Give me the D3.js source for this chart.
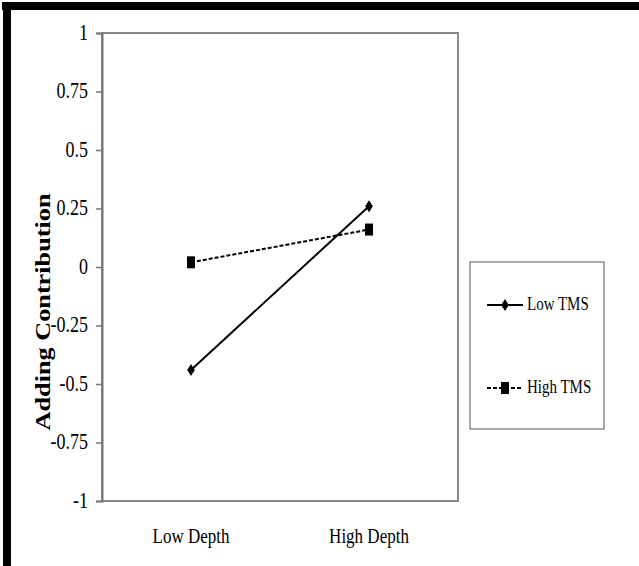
<!DOCTYPE html>
<html><head><meta charset="utf-8">
<script src="https://cdn.jsdelivr.net/npm/d3@7"></script>
<style>body{margin:0;background:#fff}svg{display:block}text{font-family:"Liberation Serif","Times New Roman",serif;fill:#000}</style>
</head><body>
<script>
const categories = ["Low Depth", "High Depth"];
const seriesNames = ["Low TMS", "High TMS"];
const lowTMS = [-0.44, 0.26];
const highTMS = [0.02, 0.16];
const yTicks = [-1, -0.75, -0.5, -0.25, 0, 0.25, 0.5, 0.75, 1];
const yTickLabels = ["-1", "-0.75", "-0.5", "-0.25", "0", "0.25", "0.5", "0.75", "1"];
const yTitle = "Adding Contribution";

const W = 639, H = 566;
const svg = d3.select("body").append("svg").attr("width", W).attr("height", H);

// frame bars (top and left)
svg.append("rect").attr("x", 2).attr("y", 2).attr("width", W - 2).attr("height", 8).attr("fill", "#000");
svg.append("rect").attr("x", 3).attr("y", 2).attr("width", 8).attr("height", H - 2).attr("fill", "#000");

const L = 102, R = 458, T = 33, B = 501;
const x = d3.scaleBand().domain(categories).range([L, R]).padding(0);
const y = d3.scaleLinear().domain([-1, 1]).range([B, T]);
const SY = 1.25;

// plot box
svg.append("rect").attr("x", L).attr("y", T).attr("width", R - L).attr("height", B - T)
  .attr("fill", "none").attr("stroke", "#8a8a8a").attr("stroke-width", 2);

// y axis
const yAxis = svg.append("g").attr("transform", `translate(${L},0)`)
  .call(d3.axisLeft(y).tickValues(yTicks).tickSize(6).tickPadding(0)
    .tickFormat((d, i) => yTickLabels[i]));
yAxis.select(".domain").attr("stroke", "#777").attr("stroke-width", 2);
yAxis.selectAll(".tick line").attr("stroke", "#777").attr("stroke-width", 1.5);
yAxis.selectAll(".tick text").attr("x", null).attr("dy", null)
  .attr("transform", `translate(-14,6) scale(1,${SY})`)
  .style("font-size", "18px").style("font-family", '"Liberation Serif",serif').attr("fill", "#000");

// x labels
svg.append("g").selectAll("text").data(categories).join("text")
  .attr("transform", d => `translate(${x(d) + x.bandwidth() / 2},543) scale(1,${SY})`)
  .attr("text-anchor", "middle").style("font-size", "17px").text(d => d);

// y title
svg.append("text")
  .attr("transform", `translate(50,312) rotate(-90) scale(${SY},1)`)
  .attr("text-anchor", "middle").style("font-size", "21px").style("font-weight", "bold").text(yTitle);

// lines
const cx = d => x(d) + x.bandwidth() / 2;
const line = d3.line().x(d => cx(d.c)).y(d => y(d.v));
const lowData = categories.map((c, i) => ({c, v: lowTMS[i]}));
const highData = categories.map((c, i) => ({c, v: highTMS[i]}));

svg.append("path").datum(lowData).attr("d", line).attr("fill", "none").attr("stroke", "#000").attr("stroke-width", 2);
svg.append("path").datum(highData).attr("d", line).attr("fill", "none").attr("stroke", "#000").attr("stroke-width", 2).attr("stroke-dasharray", "4,2");

const diamond = (cxv, cyv) => `M${cxv},${cyv - 6}L${cxv + 3.8},${cyv}L${cxv},${cyv + 6}L${cxv - 3.8},${cyv}Z`;
svg.append("g").selectAll("path").data(lowData).join("path")
  .attr("d", d => diamond(cx(d.c), y(d.v))).attr("fill", "#000");
svg.append("g").selectAll("rect").data(highData).join("rect")
  .attr("x", d => cx(d.c) - 4).attr("y", d => y(d.v) - 6).attr("width", 8).attr("height", 12).attr("fill", "#000");

// legend
const lg = svg.append("g");
lg.append("rect").attr("x", 470).attr("y", 262).attr("width", 134).attr("height", 167)
  .attr("fill", "#fff").attr("stroke", "#555").attr("stroke-width", 1);
const legY = [305, 388];
seriesNames.forEach((s, i) => {
  const yy = legY[i];
  lg.append("line").attr("x1", 487).attr("x2", 523).attr("y1", yy).attr("y2", yy)
    .attr("stroke", "#000").attr("stroke-width", 2).attr("stroke-dasharray", i ? "4,2" : null);
  if (i === 0) lg.append("path").attr("d", diamond(505, yy)).attr("fill", "#000");
  else lg.append("rect").attr("x", 501).attr("y", yy - 6).attr("width", 8).attr("height", 12).attr("fill", "#000");
  lg.append("text").attr("transform", `translate(527,${yy + 5}) scale(1,${SY})`)
    .style("font-size", "15px").text(s);
});
</script>
</body></html>
